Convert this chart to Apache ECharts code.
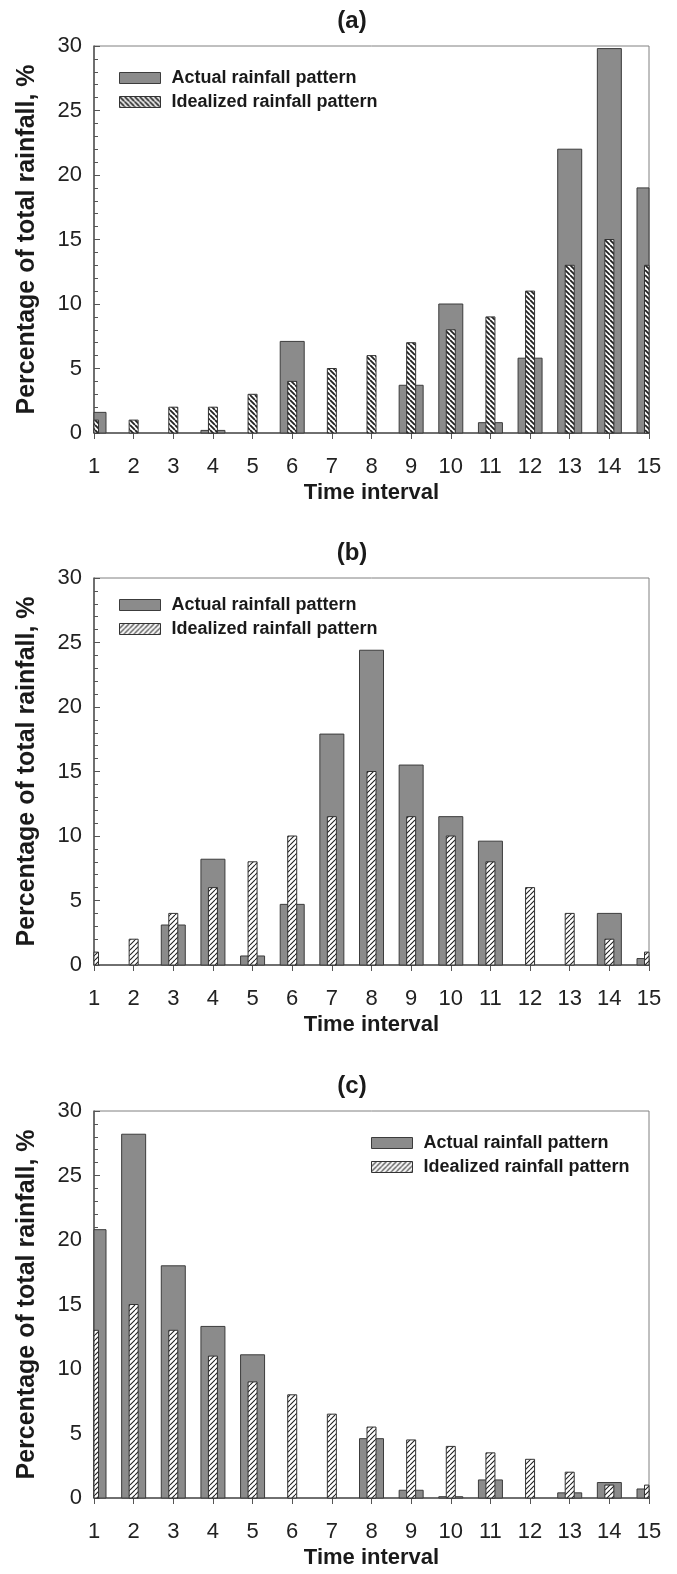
<!DOCTYPE html>
<html>
<head>
<meta charset="utf-8">
<script src="https://cdn.jsdelivr.net/npm/echarts@6/dist/echarts.min.js"></script>
<style>
  html, body { margin: 0; padding: 0; background: #fff; }
  #chart { width: 677px; height: 1574px; }
</style>
</head>
<body>
<div id="chart"></div>
<script>
// time intervals (x)
const intervals = [1, 2, 3, 4, 5, 6, 7, 8, 9, 10, 11, 12, 13, 14, 15];

// panel (a)
const actualA = [1.6, 0, 0, 0.2, 0, 7.1, 0, 0, 3.7, 10.0, 0.8, 5.8, 22.0, 29.8, 19.0];
const idealA = [1, 1, 2, 2, 3, 4, 5, 6, 7, 8, 9, 11, 13, 15, 13];
// panel (b)
const actualB = [0, 0, 3.1, 8.2, 0.7, 4.7, 17.9, 24.4, 15.5, 11.5, 9.6, 0, 0, 4.0, 0.5];
const idealB = [1, 2, 4, 6, 8, 10, 11.5, 15, 11.5, 10, 8, 6, 4, 2, 1];
// panel (c)
const actualC = [20.8, 28.2, 18.0, 13.3, 11.1, 0, 0, 4.6, 0.6, 0.1, 1.4, 0, 0.4, 1.2, 0.7];
const idealC = [13, 15, 13, 11, 9, 8, 6.5, 5.5, 4.5, 4, 3.5, 3, 2, 1, 1];

const panelTitles = ["(a)", "(b)", "(c)"];
const actualName = "Actual rainfall pattern";
const idealName = "Idealized rainfall pattern";

// hatch fill, dir 1 = "\\", dir -1 = "/"
function makeHatch(dir, lw) {
  const s = 5;
  const c = document.createElement("canvas");
  c.width = s;
  c.height = s;
  const ctx = c.getContext("2d");
  ctx.fillStyle = "#ffffff";
  ctx.fillRect(0, 0, s, s);
  ctx.strokeStyle = "#222222";
  ctx.lineWidth = lw;
  ctx.beginPath();
  for (let k = -1; k <= 1; k++) {
    if (dir > 0) {
      ctx.moveTo(k * s, 0);
      ctx.lineTo(k * s + s, s);
    } else {
      ctx.moveTo(k * s, s);
      ctx.lineTo(k * s + s, 0);
    }
  }
  ctx.stroke();
  return c;
}

const hatchA = { image: makeHatch(1, 1.8), repeat: "repeat" };
const hatchBC = { image: makeHatch(-1, 1.1), repeat: "repeat" };

const chart = echarts.init(document.getElementById("chart"));

const FONT = "Liberation Sans, Arial, sans-serif";
const grayStyle = { color: "#8b8b8b", borderColor: "#3c3c3c", borderWidth: 1 };

// bars drawn through the axes and clipped to the plot box (value axes don't clip bars)
function barItem(width, style) {
  return function (params, api) {
    const x = api.value(0);
    const y = api.value(1);
    if (!y) return null;
    const base = api.coord([x, 0]);
    const top = api.coord([x, y]);
    const cs = params.coordSys;
    const rect = echarts.graphic.clipRectByRect(
      { x: base[0] - width / 2, y: top[1], width: width, height: base[1] - top[1] },
      { x: cs.x, y: cs.y, width: cs.width, height: cs.height }
    );
    if (!rect) return null;
    return {
      type: "rect",
      shape: rect,
      style: { fill: style.color, stroke: style.borderColor, lineWidth: style.borderWidth },
    };
  };
}

const panels = [
  { top: 46, actual: actualA, ideal: idealA, hatch: hatchA, legendLeft: 114, legendTop: 64 },
  { top: 578, actual: actualB, ideal: idealB, hatch: hatchBC, legendLeft: 114, legendTop: 591 },
  { top: 1111, actual: actualC, ideal: idealC, hatch: hatchBC, legendLeft: 366, legendTop: 1129 },
];
const plotH = 387;

const grid = [];
const xAxis = [];
const yAxis = [];
const series = [];
const legend = [];
const graphic = [];

panels.forEach((p, i) => {
  const hatchStyle = { color: p.hatch, borderColor: "#333", borderWidth: 1 };
  grid.push({
    left: 94,
    right: 28,
    top: p.top,
    height: plotH,
    show: true,
    borderColor: "#808080",
    borderWidth: 1,
    backgroundColor: "transparent",
  });
  xAxis.push({
    type: "value",
    gridIndex: i,
    min: 1,
    max: 15,
    interval: 1,
    name: "Time interval",
    nameLocation: "middle",
    nameGap: 49,
    nameTextStyle: { fontFamily: FONT, fontWeight: "bold", fontSize: 22, color: "#1a1a1a" },
    axisLine: { show: true, lineStyle: { color: "#555", width: 1.5 } },
    axisTick: { show: true, inside: false, length: 6, lineStyle: { color: "#555" } },
    axisLabel: { fontFamily: FONT, fontSize: 22, color: "#222", margin: 23 },
    splitLine: { show: false },
  });
  yAxis.push({
    type: "value",
    gridIndex: i,
    min: 0,
    max: 30,
    interval: 5,
    name: "Percentage of total rainfall, %",
    nameLocation: "middle",
    nameGap: 54,
    nameTextStyle: { fontFamily: FONT, fontWeight: "bold", fontSize: 25, color: "#1a1a1a" },
    axisLine: { show: true, lineStyle: { color: "#555", width: 1.5 } },
    axisTick: { show: true, inside: true, length: 6, lineStyle: { color: "#555" } },
    minorTick: { show: true, splitNumber: 5, length: 4, lineStyle: { color: "#555" } },
    axisLabel: { fontFamily: FONT, fontSize: 22, color: "#222", margin: 12 },
    splitLine: { show: false },
    minorSplitLine: { show: false },
  });
  series.push({
    name: actualName,
    type: "custom",
    xAxisIndex: i,
    yAxisIndex: i,
    itemStyle: grayStyle,
    renderItem: barItem(24, grayStyle),
    encode: { x: 0, y: 1 },
    data: intervals.map((x, k) => [x, p.actual[k]]),
  });
  series.push({
    name: idealName,
    type: "custom",
    xAxisIndex: i,
    yAxisIndex: i,
    itemStyle: hatchStyle,
    renderItem: barItem(9, hatchStyle),
    encode: { x: 0, y: 1 },
    data: intervals.map((x, k) => [x, p.ideal[k]]),
  });
  legend.push({
    orient: "vertical",
    left: p.legendLeft,
    top: p.legendTop,
    itemWidth: 41,
    itemHeight: 11,
    itemGap: 6,
    selectedMode: false,
    icon: "rect",
    textStyle: { fontFamily: FONT, fontWeight: "bold", fontSize: 18, color: "#1a1a1a", padding: [0, 0, 0, 6] },
    data: [
      { name: actualName, itemStyle: grayStyle },
      { name: idealName, itemStyle: hatchStyle },
    ],
  });
  graphic.push({
    type: "text",
    x: 352,
    y: p.top - 25,
    style: {
      text: panelTitles[i],
      font: "bold 24px " + FONT,
      fill: "#1a1a1a",
      textAlign: "center",
      textVerticalAlign: "middle",
    },
  });
});

chart.setOption({
  backgroundColor: "#ffffff",
  animation: false,
  grid: grid,
  xAxis: xAxis,
  yAxis: yAxis,
  legend: legend,
  graphic: graphic,
  series: series,
});
</script>
</body>
</html>
